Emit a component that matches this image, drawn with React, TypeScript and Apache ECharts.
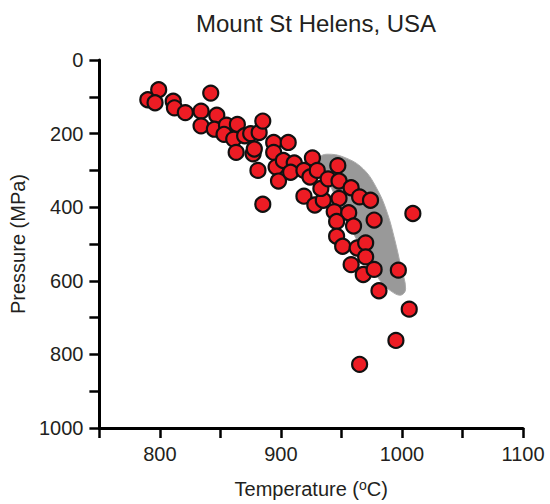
import React, { useEffect, useRef } from "react";
import * as echarts from "echarts";

// Sample temperatures (°C) and pressures (MPa)
const temperature = [
  790, 799, 796, 811, 812, 821, 842, 834, 847, 834, 845, 855, 864, 853, 861, 870,
  875, 882, 885, 863, 877, 878, 881, 885, 894, 906, 894, 896, 898, 902, 911, 908,
  919, 926, 924, 919, 930, 928, 935, 933, 939, 947, 948, 948, 958, 965, 974, 944,
  956, 946, 960, 977, 1009, 946, 951, 963, 970, 970, 958, 968, 977, 997, 981, 1006,
  995, 965,
];
const pressure = [
  108, 81, 116, 112, 130, 143, 90, 139, 150, 179, 188, 177, 175, 202, 215, 206,
  200, 197, 166, 251, 255, 242, 300, 392, 224, 224, 251, 291, 329, 273, 280, 305,
  300, 266, 318, 370, 300, 394, 381, 349, 323, 287, 329, 376, 347, 372, 381, 412,
  415, 439, 451, 435, 417, 479, 506, 511, 497, 535, 556, 583, 569, 571, 627, 677,
  762, 827,
];

// Grey field outline (temperature, pressure)
const fieldT = [938, 952, 968, 980, 988, 994, 999, 1003, 999, 991, 982, 968, 955, 942, 933, 932];
const fieldP = [256, 264, 296, 354, 417, 488, 560, 622, 639, 628, 600, 520, 440, 350, 285, 265];

const xTicks = [800, 900, 1000, 1100];
const yTicks = [0, 200, 400, 600, 800, 1000];

const TEXT = "#231f20";
const FONT = "Liberation Sans, Arial, sans-serif";

export default function App() {
  const ref = useRef<HTMLDivElement>(null);
  useEffect(() => {
    if (!ref.current) return;
    const chart = echarts.init(ref.current, undefined, { renderer: "svg" });
    const points = temperature.map((t, i) => [t, pressure[i]]);
    chart.setOption({
      animation: false,
      backgroundColor: "#ffffff",
      textStyle: { fontFamily: FONT },
      title: {
        text: "Mount St Helens, USA",
        left: 311,
        textAlign: "center",
        top: 6,
        textStyle: { fontFamily: FONT, fontSize: 24, fontWeight: "normal", color: TEXT },
      },
      grid: { left: 98, right: 27, top: 60, bottom: 72, containLabel: false },
      xAxis: {
        type: "value",
        min: 750,
        max: 1100,
        interval: 50,
        name: "Temperature ({sup|o}C)",
        nameLocation: "middle",
        nameGap: 50,
        nameTextStyle: {
          fontFamily: FONT,
          fontSize: 20,
          color: TEXT,
          rich: { sup: { fontFamily: FONT, fontSize: 14, color: TEXT, verticalAlign: "top", padding: [0, 0, 8, 0] } },
        },
        axisLine: { onZero: false, lineStyle: { color: "#000", width: 3 } },
        axisTick: { length: 10, lineStyle: { color: "#000", width: 2.5 } },
        axisLabel: {
          margin: 16,
          fontSize: 20,
          fontFamily: FONT,
          color: TEXT,
          formatter: (v: number) => (xTicks.includes(v) ? String(v) : ""),
        },
        splitLine: { show: false },
      },
      yAxis: {
        type: "value",
        inverse: true,
        min: 0,
        max: 1000,
        interval: 100,
        name: "Pressure (MPa)",
        nameLocation: "middle",
        nameGap: 68,
        nameRotate: 90,
        nameTextStyle: { fontFamily: FONT, fontSize: 20, color: TEXT },
        axisLine: { onZero: false, lineStyle: { color: "#000", width: 3 } },
        axisTick: { length: 10, lineStyle: { color: "#000", width: 2.5 } },
        axisLabel: {
          margin: 16,
          fontSize: 20,
          fontFamily: FONT,
          color: TEXT,
          formatter: (v: number) => (yTicks.includes(v) ? String(v) : ""),
        },
        splitLine: { show: false },
      },
      series: [
        {
          type: "custom",
          clip: false,
          silent: true,
          z: 1,
          data: [[fieldT[0], fieldP[0]]],
          renderItem: (_params: any, api: any) => ({
            type: "polygon",
            shape: {
              points: fieldT.map((t, i) => api.coord([t, fieldP[i]])),
              smooth: 0.4,
            },
            style: { fill: "#999999", stroke: "#aaaaaa", lineWidth: 1 },
          }),
        },
        {
          type: "scatter",
          z: 2,
          symbol: "circle",
          symbolSize: 15,
          data: points,
          itemStyle: { color: "#ed1c24", borderColor: "#111111", borderWidth: 2.2, opacity: 1 },
        },
      ],
    });
    return () => chart.dispose();
  }, []);
  return (
    <div
      ref={ref}
      style={{ position: "fixed", left: 0, top: 0, width: 550, height: 504, background: "#fff" }}
    />
  );
}
